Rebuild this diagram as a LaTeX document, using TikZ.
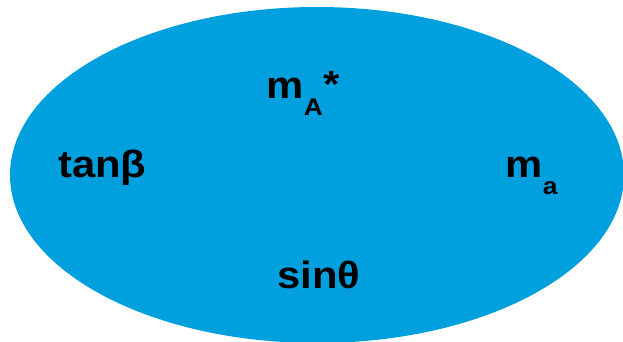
\documentclass[tikz,border=0pt]{standalone}
\usepackage{fontspec}
\setmainfont[FakeStretch=1.1]{Liberation Sans}
\definecolor{ellblue}{RGB}{0,160,223}
\newcommand{\subsz}{\fontsize{24}{25}\selectfont}
\begin{document}
\begin{tikzpicture}[x=1pt,y=-1pt,
  lbl/.style={anchor=base west, inner sep=0pt, text=black,
    font=\fontsize{38}{40}\selectfont\bfseries}]
\useasboundingbox (0,0) rectangle (623,341);
\fill[ellblue] (317,175) ellipse [x radius=307pt, y radius=168pt];
\node[lbl] (mA) at (266,98) {m\hspace{0.5pt}\raisebox{-17pt}{\subsz\bfseries A}\hspace{1pt}\raisebox{1pt}{*}};
\node[lbl] (tanb) at (58,177) {tanβ};
\node[lbl] (ma) at (505,177) {m\hspace{0.5pt}\raisebox{-17pt}{\subsz\bfseries a}};
\node[lbl] (sint) at (277,288) {sinθ};
\end{tikzpicture}
\end{document}
